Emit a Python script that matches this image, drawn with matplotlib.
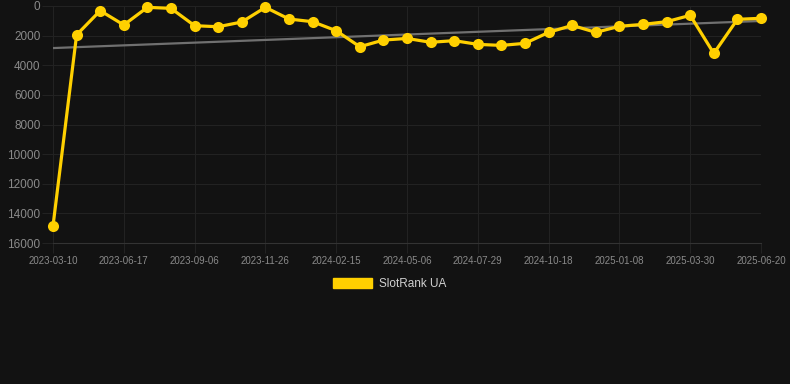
import matplotlib
matplotlib.use('Agg')
import matplotlib.pyplot as plt
from matplotlib.patches import Patch

# rank per snapshot (lower = better), categorical x axis
ranks = [14850, 1950, 315, 1280, 90, 160, 1330, 1400, 1080, 90, 880,
         1060, 1670, 2750, 2300, 2190, 2450, 2340, 2590, 2660, 2520,
         1780, 1310, 1780, 1370, 1240, 1060, 630, 3200, 900, 830]
tick_labels = ['2023-03-10', '2023-06-17', '2023-09-06', '2023-11-26',
               '2024-02-15', '2024-05-06', '2024-07-29', '2024-10-18',
               '2025-01-08', '2025-03-30', '2025-06-20']
trend = [2840, 1010]
y_ticks = [0, 2000, 4000, 6000, 8000, 10000, 12000, 14000, 16000]

bg = '#121212'
gold = '#FFD000'
grid_c = '#222222'
label_c = '#8a8a8a'

plt.rcParams['font.family'] = ['Liberation Sans', 'DejaVu Sans']

fig = plt.figure(figsize=(7.9, 3.84), dpi=100, facecolor=bg)
ax = fig.add_axes([53/790, 1-243/384, (761-53)/790, (243-6)/384])
ax.set_facecolor(bg)

x = list(range(len(ranks)))
ax.plot([x[0], x[-1]], trend, color='#707070', lw=1.6, zorder=2)
ax.plot(x, ranks, color=gold, lw=2.3, marker='o', markersize=8,
        markeredgewidth=0, zorder=3, clip_on=False)

ax.set_xlim(0, len(ranks) - 1)
ax.set_ylim(16000, 0)
ax.set_yticks(y_ticks)
ax.set_yticklabels([str(v) for v in y_ticks])
ax.set_xticks(x[::3])
ax.set_xticklabels(tick_labels)

ax.grid(True, color=grid_c, lw=0.8)
ax.tick_params(axis='y', colors=grid_c, labelcolor=label_c, labelsize=8.5,
               length=8, width=0.8, pad=1)
ax.tick_params(axis='x', colors=grid_c, labelcolor=label_c, labelsize=7,
               length=7, width=0.8, pad=2)
for side in ['top', 'right', 'left']:
    ax.spines[side].set_visible(False)
ax.spines['bottom'].set_color('#333333')
ax.set_axisbelow(True)

handle = Patch(facecolor=gold, edgecolor=gold)
fig.legend([handle], ['SlotRank UA'], loc='center', bbox_to_anchor=(390/790, 1-284/384),
           frameon=False, fontsize=8.5, labelcolor='#d0d0d0',
           handlelength=3.3, handleheight=1.0, handletextpad=0.6)

fig.savefig('out.png', dpi=100, facecolor=bg)
